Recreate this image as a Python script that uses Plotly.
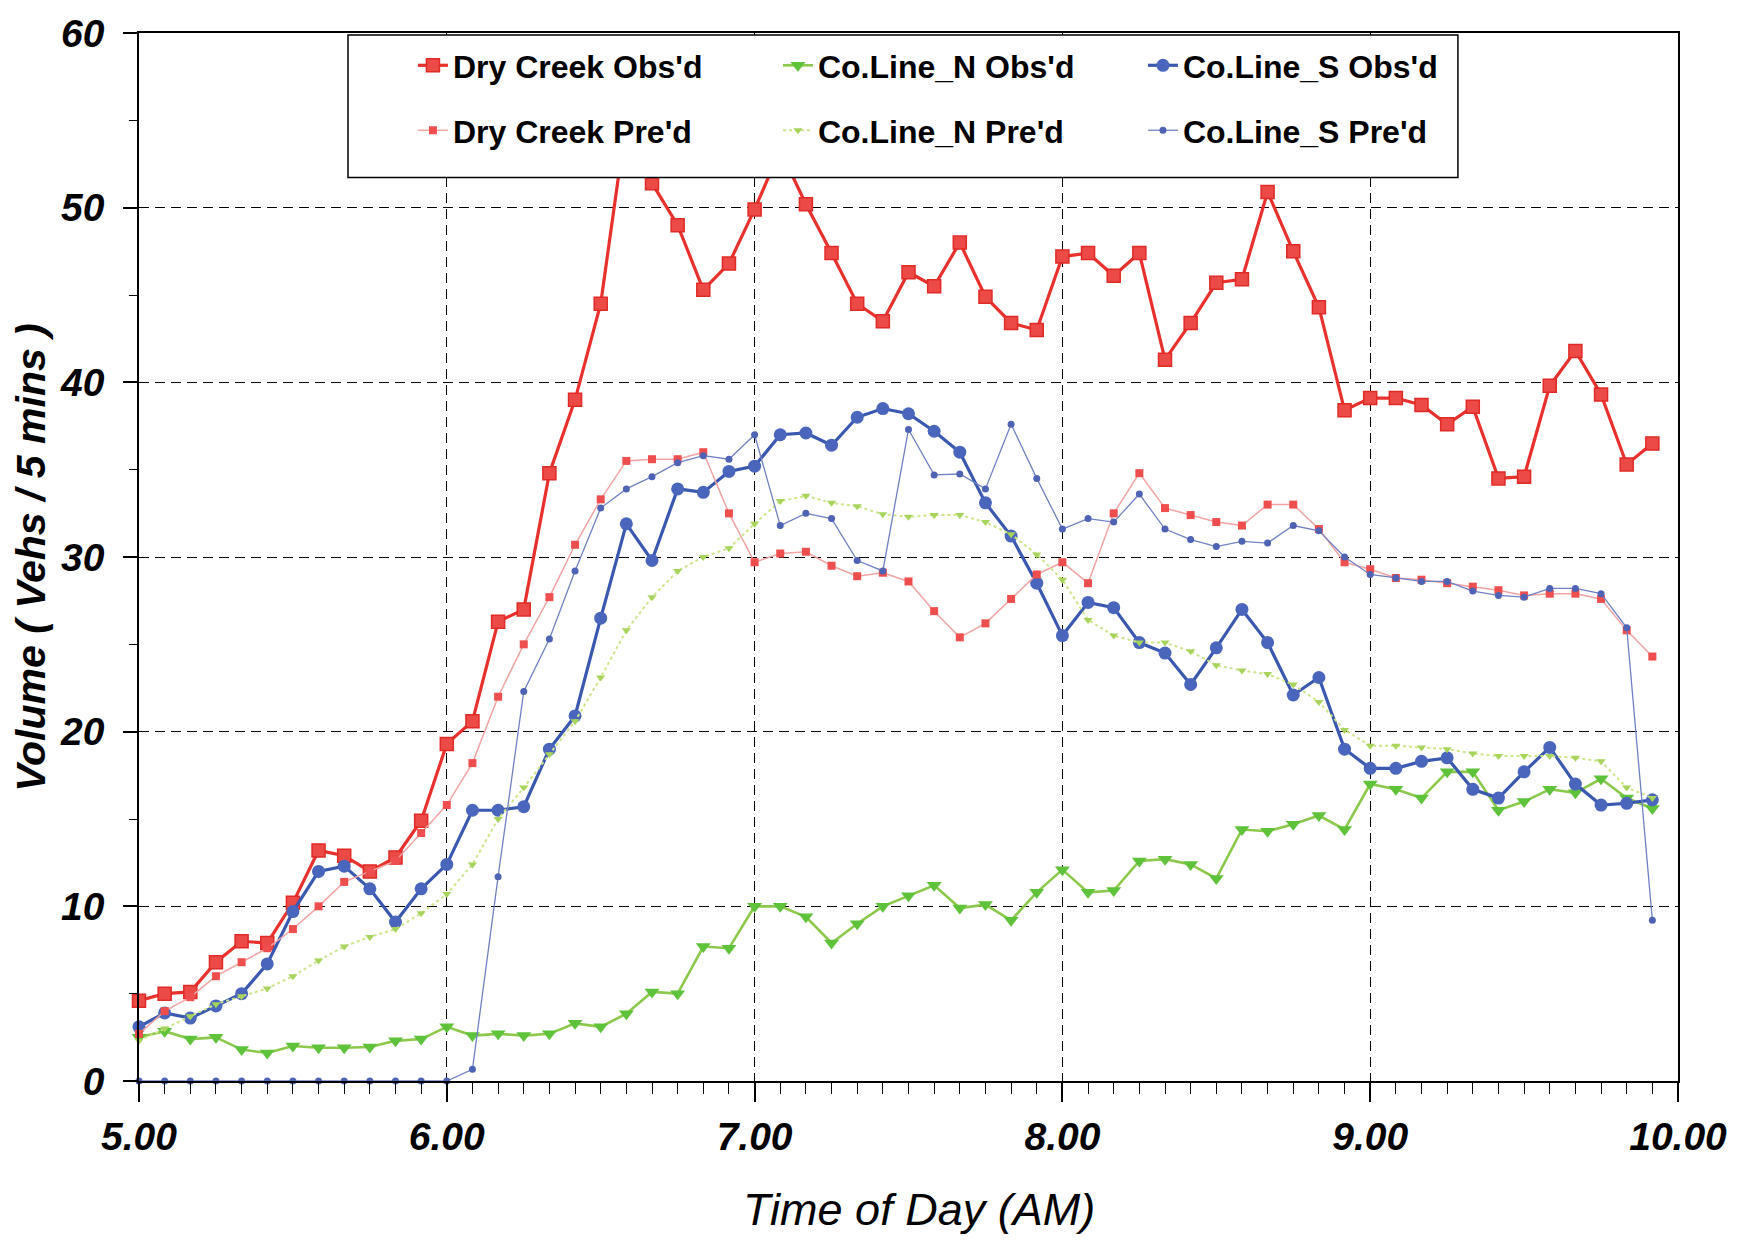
import plotly.graph_objects as go

# ---- data -------------------------------------------------------------
time_hr = [5 + m / 60 for m in range(0, 300, 5)]  # 5-minute intervals, 5:00 .. 9:55

dry_creek_obs = [4.6, 5.0, 5.1, 6.8, 8.0, 7.9, 10.2, 13.2, 12.9, 12.0,
                 12.8, 14.9, 19.3, 20.6, 26.3, 27.0, 34.8, 39.0, 44.5, 55.0,
                 51.4, 49.0, 45.3, 46.8, 49.9, 53.3, 50.2, 47.4, 44.5, 43.5,
                 46.3, 45.5, 48.0, 44.9, 43.4, 43.0, 47.2, 47.4, 46.1, 47.4,
                 41.3, 43.4, 45.7, 45.9, 50.9, 47.5, 44.3, 38.4, 39.1, 39.1,
                 38.7, 37.6, 38.6, 34.5, 34.6, 39.8, 41.8, 39.3, 35.3, 36.5]

dry_creek_pre = [2.7, 4.0, 4.8, 6.0, 6.8, 7.6, 8.7, 10.0, 11.4, 12.0,
                 12.6, 14.2, 15.8, 18.2, 22.0, 25.0, 27.7, 30.7, 33.3, 35.5,
                 35.6, 35.6, 36.0, 32.5, 29.7, 30.2, 30.3, 29.5, 28.9, 29.1,
                 28.6, 26.9, 25.4, 26.2, 27.6, 29.0, 29.7, 28.5, 32.5, 34.8,
                 32.8, 32.4, 32.0, 31.8, 33.0, 33.0, 31.6, 29.7, 29.3, 28.8,
                 28.7, 28.5, 28.3, 28.1, 27.8, 27.9, 27.9, 27.6, 25.8, 24.3]

coline_n_obs = [2.5, 2.85, 2.4, 2.5, 1.8, 1.6, 2.0, 1.9, 1.9, 1.95,
                2.3, 2.4, 3.1, 2.6, 2.7, 2.6, 2.7, 3.3, 3.1, 3.85,
                5.1, 5.0, 7.7, 7.6, 10.0, 10.0, 9.4, 7.9, 9.0, 10.0,
                10.6, 11.2, 9.9, 10.1, 9.2, 10.8, 12.1, 10.8, 10.9, 12.6,
                12.7, 12.4, 11.6, 14.4, 14.3, 14.7, 15.2, 14.4, 17.0, 16.7,
                16.2, 17.7, 17.7, 15.5, 16.0, 16.7, 16.5, 17.3, 16.2, 15.6]

coline_n_pre = [2.3, 3.0, 3.7, 4.4, 4.85, 5.3, 6.0, 6.9, 7.7, 8.25,
                8.7, 9.6, 10.7, 12.4, 15.0, 16.8, 18.7, 20.6, 23.1, 25.8,
                27.7, 29.2, 30.0, 30.5, 31.9, 33.2, 33.5, 33.1, 32.9, 32.45,
                32.3, 32.4, 32.4, 32.0, 31.3, 30.15, 28.7, 26.4, 25.5, 25.1,
                25.1, 24.6, 23.8, 23.5, 23.3, 22.7, 21.7, 20.1, 19.2, 19.2,
                19.1, 19.0, 18.75, 18.6, 18.6, 18.6, 18.5, 18.3, 16.8, 16.2]

coline_s_obs = [3.1, 3.9, 3.6, 4.3, 5.0, 6.7, 9.7, 12.0, 12.3, 11.0,
                9.1, 11.0, 12.4, 15.5, 15.5, 15.7, 19.0, 20.9, 26.5, 31.9,
                29.8, 33.9, 33.7, 34.9, 35.2, 37.0, 37.1, 36.4, 38.0, 38.5,
                38.2, 37.2, 36.0, 33.1, 31.2, 28.5, 25.5, 27.4, 27.1, 25.1,
                24.5, 22.7, 24.8, 27.0, 25.1, 22.1, 23.1, 19.0, 17.9, 17.9,
                18.3, 18.5, 16.7, 16.2, 17.7, 19.1, 17.0, 15.8, 15.9, 16.1]

coline_s_pre = [0, 0, 0, 0, 0, 0, 0, 0, 0, 0,
                0, 0, 0, 0.67, 11.7, 22.3, 25.3, 29.2, 32.8, 33.9,
                34.6, 35.4, 35.8, 35.6, 37.0, 31.8, 32.5, 32.2, 29.8, 29.2,
                37.3, 34.7, 34.75, 33.9, 37.6, 34.5, 31.6, 32.2, 32.0, 33.6,
                31.6, 31.0, 30.6, 30.9, 30.8, 31.8, 31.5, 30.0, 29.0, 28.8,
                28.6, 28.6, 28.05, 27.8, 27.7, 28.2, 28.2, 27.9, 25.95, 9.2]

x_tick_vals = [5, 6, 7, 8, 9, 10]
x_tick_text = ["5.00", "6.00", "7.00", "8.00", "9.00", "10.00"]
y_tick_vals = [0, 10, 20, 30, 40, 50, 60]
y_tick_text = ["0", "10", "20", "30", "40", "50", "60"]

FONT = "Liberation Sans, Arial, sans-serif"

fig = go.Figure()

# observed series (legend row 1)
fig.add_trace(go.Scatter(
    x=time_hr, y=dry_creek_obs, name="Dry Creek Obs'd", mode="lines+markers",
    line=dict(color="#E8302C", width=3.2),
    marker=dict(symbol="square", size=13, color="#EC4A46", line=dict(color="#E02A26", width=1.5)),
    legend="legend", cliponaxis=False))
fig.add_trace(go.Scatter(
    x=time_hr, y=coline_n_obs, name="Co.Line_N Obs'd", mode="lines+markers",
    line=dict(color="#8CC84B", width=2.6),
    marker=dict(symbol="triangle-down", size=13, color="#5EC23A"),
    legend="legend", cliponaxis=False))
fig.add_trace(go.Scatter(
    x=time_hr, y=coline_s_obs, name="Co.Line_S Obs'd", mode="lines+markers",
    line=dict(color="#3A58B0", width=3.2),
    marker=dict(symbol="circle", size=13, color="#4A66BC"),
    legend="legend", cliponaxis=False))

# predicted series (legend row 2)
fig.add_trace(go.Scatter(
    x=time_hr, y=dry_creek_pre, name="Dry Creek Pre'd", mode="lines+markers",
    line=dict(color="#F2A3A3", width=1.5),
    marker=dict(symbol="square", size=8, color="#EE4E4E"),
    legend="legend2", cliponaxis=False))
fig.add_trace(go.Scatter(
    x=time_hr, y=coline_n_pre, name="Co.Line_N Pre'd", mode="lines+markers",
    line=dict(color="#CDE58A", width=2, dash="dot"),
    marker=dict(symbol="triangle-down", size=8, color="#A6D45C"),
    legend="legend2", cliponaxis=False))
fig.add_trace(go.Scatter(
    x=time_hr, y=coline_s_pre, name="Co.Line_S Pre'd", mode="lines+markers",
    line=dict(color="#7080C4", width=1.3),
    marker=dict(symbol="circle", size=7, color="#4F63B4"),
    legend="legend2", cliponaxis=False))

legend_common = dict(
    orientation="h", xanchor="left", yanchor="middle", x=0.178,
    bgcolor="rgba(0,0,0,0)", borderwidth=0,
    font=dict(family=FONT, size=32, color="black", weight="bold"),
    entrywidth=320, entrywidthmode="pixels", itemwidth=30,
)

fig.update_layout(
    width=1748, height=1240,
    margin=dict(l=139, r=70, t=28, b=159),
    paper_bgcolor="white", plot_bgcolor="white",
    showlegend=True,
    legend=dict(legend_common, y=0.969),
    legend2=dict(legend_common, y=0.907),
    shapes=[dict(type="rect", xref="paper", yref="paper",
                 x0=0.1358, x1=0.857, y0=0.862, y1=0.998,
                 fillcolor="white", line=dict(color="black", width=1.5),
                 layer="above")],
    annotations=[
        dict(text="Time of Day (AM)", xref="paper", yref="paper", x=0.507, y=-0.1225,
             xanchor="center", yanchor="middle", showarrow=False,
             font=dict(family=FONT, size=45, color="black", style="italic")),
        dict(text="Volume ( Vehs / 5 mins )", xref="paper", yref="paper", x=-0.0703, y=0.5,
             xanchor="center", yanchor="middle", showarrow=False, textangle=-90,
             font=dict(family=FONT, size=41, color="black", weight="bold", style="italic")),
    ],
)

fig.update_xaxes(
    range=[5, 10], tickvals=x_tick_vals, ticktext=x_tick_text,
    showline=True, linecolor="black", linewidth=1.5, mirror=True,
    ticks="outside", ticklen=19, tickwidth=1.5, tickcolor="black",
    ticklabelstandoff=1,
    tickfont=dict(family=FONT, size=39, color="black", weight="bold", style="italic"),
    showgrid=True, gridcolor="black", gridwidth=1.2, griddash="10px,6px",
    minor=dict(dtick=5 / 60, tick0=5, ticks="outside", ticklen=11, tickwidth=1.2,
               tickcolor="black", showgrid=False),
    zeroline=False,
)
fig.update_yaxes(
    range=[0, 60], tickvals=y_tick_vals, ticktext=y_tick_text,
    showline=True, linecolor="black", linewidth=1.5, mirror=True,
    ticks="outside", ticklen=14, tickwidth=1.5, tickcolor="black",
    ticklabelstandoff=11,
    tickfont=dict(family=FONT, size=39, color="black", weight="bold", style="italic"),
    showgrid=True, gridcolor="black", gridwidth=1.2, griddash="10px,6px",
    minor=dict(dtick=5, ticks="outside", ticklen=8, tickwidth=1.2,
               tickcolor="black", showgrid=False),
    zeroline=False,
)

fig.write_html("out.html")
